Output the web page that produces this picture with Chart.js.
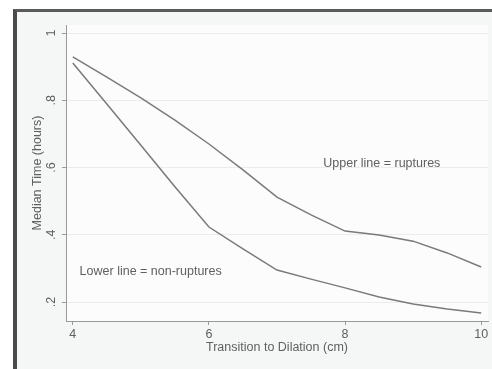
<!DOCTYPE html>
<html>
<head>
<meta charset="utf-8">
<script src="https://cdn.jsdelivr.net/npm/chart.js@4/dist/chart.umd.min.js"></script>
<style>
  html, body { margin: 0; padding: 0; background: #fff; }
  #wrap { position: relative; width: 492px; height: 369px; overflow: hidden; }
  #frame {
    position: absolute; left: 13px; top: 9px; right: 0; bottom: -5px;
    border-left: 4px solid #4a4a4a; border-top: 3px solid #5a5a5a;
    background: #f5f6f6;
  }
  #chart { position: absolute; left: 0; top: 0; }
</style>
</head>
<body>
<div id="wrap">
  <div id="frame"></div>
  <canvas id="chart" width="492" height="369"></canvas>
</div>
<script>
// Data (x = cm, y = hours)
const dilation = [4, 4.5, 5, 5.5, 6, 6.5, 7, 7.5, 8, 8.5, 9, 9.5, 10];
const ruptures = [0.929, 0.869, 0.807, 0.741, 0.670, 0.593, 0.512, 0.459, 0.411, 0.399, 0.381, 0.346, 0.304];
const nonRuptures = [0.911, 0.789, 0.666, 0.543, 0.423, 0.358, 0.295, 0.268, 0.242, 0.215, 0.194, 0.179, 0.167];

const xTicks = [4, 6, 8, 10];
const yTicks = [0.2, 0.4, 0.6, 0.8, 1];
const yTickLabels = ['.2', '.4', '.6', '.8', '1'];

const textColor = '#606060';
const lineColor = '#7a7a7a';
const fontFamily = '"Liberation Sans", Arial, sans-serif';
const fontSize = 12.5;

// Plot background + rotated y labels + the two notes
const extras = {
  id: 'extras',
  beforeDraw(chart) {
    const { ctx, chartArea: a } = chart;
    ctx.save();
    ctx.fillStyle = '#fcfcfc';
    ctx.fillRect(a.left, a.top, a.right - a.left, a.bottom - a.top);
    ctx.restore();
  },
  afterDraw(chart) {
    const { ctx, scales: { x, y } } = chart;
    ctx.save();
    ctx.fillStyle = textColor;
    ctx.font = fontSize + 'px ' + fontFamily;
    ctx.textAlign = 'center';
    ctx.textBaseline = 'middle';
    yTicks.forEach((v, i) => {
      ctx.save();
      ctx.translate(52, y.getPixelForValue(v));
      ctx.rotate(-Math.PI / 2);
      ctx.fillText(yTickLabels[i], 0, 0);
      ctx.restore();
    });
    ctx.textAlign = 'left';
    ctx.fillText('Upper line = ruptures', x.getPixelForValue(7.68), y.getPixelForValue(0.613));
    ctx.fillText('Lower line = non-ruptures', x.getPixelForValue(4.1), y.getPixelForValue(0.292));
    ctx.restore();
  }
};

const lineStyle = {
  borderColor: lineColor,
  borderWidth: 1.5,
  pointRadius: 0,
  tension: 0,
  fill: false
};

new Chart(document.getElementById('chart'), {
  type: 'line',
  data: {
    datasets: [
      { label: 'Ruptures', data: dilation.map((d, i) => ({ x: d, y: ruptures[i] })), ...lineStyle },
      { label: 'Non-ruptures', data: dilation.map((d, i) => ({ x: d, y: nonRuptures[i] })), ...lineStyle }
    ]
  },
  options: {
    responsive: false,
    animation: false,
    devicePixelRatio: 1,
    layout: { padding: { top: 25, right: 4, left: 0, bottom: 0 } },
    plugins: {
      legend: { display: false },
      tooltip: { enabled: false }
    },
    scales: {
      x: {
        type: 'linear',
        min: 3.9,
        max: 10.1,
        afterBuildTicks: (s) => { s.ticks = xTicks.map(v => ({ value: v })); },
        afterFit: (s) => { s.height = 48; },
        border: { color: '#9a9a9a', width: 1 },
        grid: { drawOnChartArea: false, tickLength: 4, tickColor: '#9a9a9a' },
        ticks: {
          color: textColor,
          padding: 2,
          maxRotation: 0,
          font: { family: fontFamily, size: fontSize },
          callback: (v) => String(v)
        },
        title: {
          display: true,
          text: 'Transition to Dilation (cm)',
          color: textColor,
          font: { family: fontFamily, size: fontSize },
          padding: { top: 0, bottom: 14 }
        }
      },
      y: {
        type: 'linear',
        min: 0.1435,
        max: 1.024,
        afterBuildTicks: (s) => { s.ticks = yTicks.map(v => ({ value: v })); },
        afterFit: (s) => { s.width = 66; },
        border: { color: '#9a9a9a', width: 1 },
        grid: { color: '#ececec', lineWidth: 1, tickLength: 4, tickColor: '#9a9a9a' },
        ticks: { display: false },
        title: {
          display: true,
          text: 'Median Time (hours)',
          color: textColor,
          font: { family: fontFamily, size: fontSize },
          padding: { top: 30, bottom: 0 }
        }
      }
    }
  },
  plugins: [extras]
});
</script>
</body>
</html>
